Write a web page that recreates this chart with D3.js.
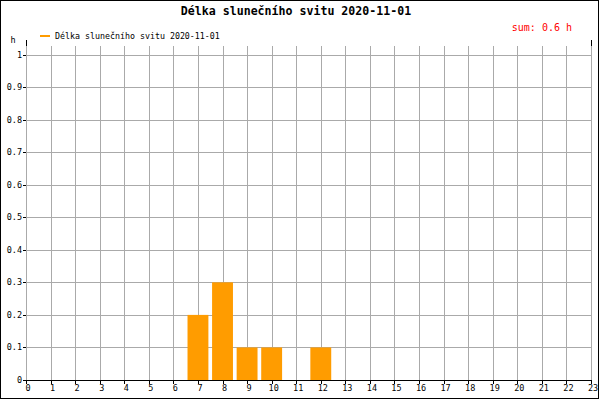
<!DOCTYPE html>
<html><head><meta charset="utf-8">
<script src="https://cdn.jsdelivr.net/npm/d3@7"></script>
<style>body{margin:0;background:#fff}svg{display:block}text{font-family:"DejaVu Sans Mono",monospace}</style>
</head><body><svg id="c" width="600" height="400"></svg>
<script>
const title = "Délka slunečního svitu 2020-11-01";
const seriesName = "Délka slunečního svitu 2020-11-01";
const sumLabel = "sum: 0.6 h";
const unitLabel = "h";
const hours = d3.range(0, 24);
const values = [0,0,0,0,0,0,0,0.2,0.3,0.1,0.1,0,0.1,0,0,0,0,0,0,0,0,0,0,0];
const yTicks = [0,0.1,0.2,0.3,0.4,0.5,0.6,0.7,0.8,0.9,1];

const svg = d3.select("#c");
svg.append("rect").attr("x",0).attr("y",0).attr("width",600).attr("height",400).attr("fill","#fff");
svg.append("rect").attr("x",0.5).attr("y",0.5).attr("width",598).attr("height",398)
  .attr("fill","none").attr("stroke","#000");

const x = d3.scaleLinear().domain([0,23]).range([26,591]);
const y = d3.scaleLinear().domain([0,1]).range([380,54.5]);
const gridTop = 46;

// grid
const g = svg.append("g");
g.selectAll(".vg").data(hours).join("line")
  .attr("x1",d=>Math.round(x(d))+0.5).attr("x2",d=>Math.round(x(d))+0.5)
  .attr("y1",gridTop).attr("y2",380).attr("stroke","#aaa");
g.selectAll(".hg").data(yTicks.slice(1)).join("line")
  .attr("x1",26).attr("x2",591)
  .attr("y1",d=>Math.round(y(d))+0.5).attr("y2",d=>Math.round(y(d))+0.5).attr("stroke","#aaa");

// bars
const step = x(1)-x(0);
const bw = step*0.85;
svg.selectAll(".bar").data(hours.filter(h=>values[h]>0)).join("rect")
  .attr("x",d=>x(d)-bw/2).attr("width",bw)
  .attr("y",d=>y(values[d])).attr("height",d=>y(0)-y(values[d]))
  .attr("fill","#ff9c00");

// axes
svg.append("line").attr("x1",26).attr("x2",591).attr("y1",380.5).attr("y2",380.5).attr("stroke","#000");
svg.append("line").attr("x1",26.5).attr("x2",26.5).attr("y1",40).attr("y2",gridTop).attr("stroke","#000");
svg.append("line").attr("x1",591.5).attr("x2",591.5).attr("y1",40).attr("y2",gridTop).attr("stroke","#000");

// y ticks
svg.selectAll(".yt").data(yTicks).join("line")
  .attr("x1",23).attr("x2",26).attr("y1",d=>Math.round(y(d))+0.5).attr("y2",d=>Math.round(y(d))+0.5)
  .attr("stroke","#000");
svg.selectAll(".yl").data(yTicks).join("text")
  .attr("x",22).attr("y",d=>y(d)+3).attr("text-anchor","end")
  .attr("font-size","8.5px").text(d=>d3.format("")(d));

// x ticks
svg.selectAll(".xt").data(hours).join("line")
  .attr("x1",d=>Math.round(x(d))+0.5).attr("x2",d=>Math.round(x(d))+0.5).attr("y1",380).attr("y2",384)
  .attr("stroke","#000");
svg.selectAll(".xl").data(hours).join("text")
  .attr("x",d=>x(d)+2).attr("y",391).attr("text-anchor","middle")
  .attr("font-size","8.5px").text(d=>d);

// title
svg.append("text").attr("x",296).attr("y",15).attr("text-anchor","middle")
  .attr("font-size","11.6px").attr("font-weight","bold").text(title);

// legend
svg.append("line").attr("x1",40).attr("x2",50).attr("y1",36).attr("y2",36)
  .attr("stroke","#ff9c00").attr("stroke-width",2);
svg.append("text").attr("x",55).attr("y",39).attr("font-size","8.3px").text(seriesName);

// sum
svg.append("text").attr("x",572).attr("y",31).attr("text-anchor","end")
  .attr("font-size","10px").attr("fill","#f00").text(sumLabel);

// unit
svg.append("text").attr("x",13).attr("y",43).attr("text-anchor","middle")
  .attr("font-size","8.5px").text(unitLabel);
</script></body></html>
